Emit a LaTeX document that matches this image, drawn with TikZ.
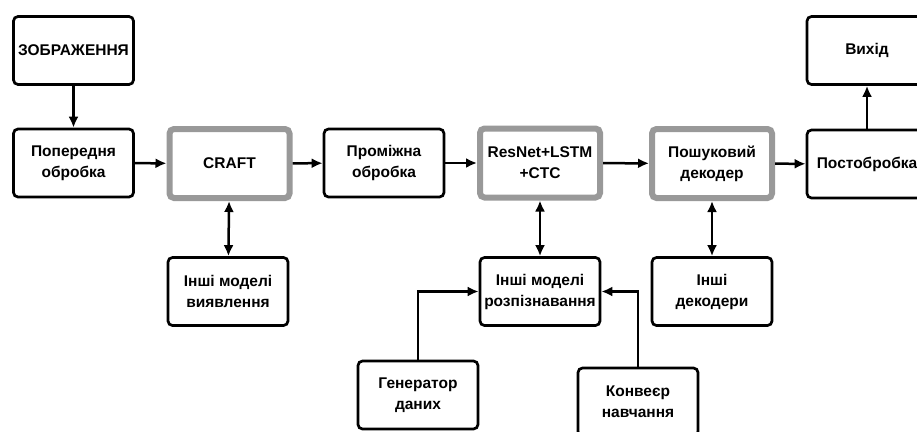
\documentclass[tikz,border=0pt]{standalone}
\usepackage{fontspec}
\setmainfont{Liberation Sans}
\usetikzlibrary{arrows.meta}
\begin{document}
\begin{tikzpicture}[x=1pt,y=-1pt,
  font=\bfseries\fontsize{15.5}{21}\selectfont,
  box/.style={draw=black, line width=2.7pt, rounded corners=4.5pt, fill=white,
    minimum width=120pt, minimum height=68pt, align=center, inner sep=0pt},
  corebox/.style={draw=black!40, line width=6pt, rounded corners=4.5pt, fill=white,
    minimum width=120pt, minimum height=69pt, align=center, inner sep=0pt},
  arr/.style={line width=2.5pt, -{Latex[length=11pt,width=10pt]}},
  biarr/.style={line width=2.5pt, {Latex[length=11pt,width=10pt]}-{Latex[length=11pt,width=10pt]}}]
  \useasboundingbox (0,0) rectangle (917,431);
  \fill[white] (0,0) rectangle (917,431);

  % main pipeline
  \node[box] (img) at (73.5,50.5) {ЗОБРАЖЕННЯ};
  \node[box] (pre) at (73.5,163) {Попередня\\обробка};
  \node[corebox] (craft) at (229.5,163.5) {CRAFT};
  \node[box] (mid) at (384,163) {Проміжна\\обробка};
  \node[corebox] (res) at (540,163) {ResNet+LSTM\\+CTC};
  \node[corebox] (dec) at (712,163.5) {Пошуковий\\декодер};
  \node[box] (post) at (867,164) {Постобробка};
  \node[box] (out) at (867,50.5) {Вихід};

  % alternatives and training
  \node[box] (det) at (228,291.5) {Інші моделі\\виявлення};
  \node[box] (rec) at (540,291.5) {Інші моделі\\розпізнавання};
  \node[box] (odec) at (712,291.5) {Інші\\декодери};
  \node[box] (gen) at (418,395) {Генератор\\даних};
  \node[box] (conv) at (638,402) {Конвеєр\\навчання};

  % connectors
  \draw[arr] (img) -- (pre);
  \draw[arr] (pre) -- (craft);
  \draw[arr] (craft) -- (mid);
  \draw[arr] (mid) -- (res);
  \draw[arr] (res) -- (dec);
  \draw[arr] (dec) -- (post);
  \draw[arr] (post) -- (out);
  \draw[biarr] (craft) -- (det);
  \draw[biarr] (res) -- (rec);
  \draw[biarr] (dec) -- (odec);
  \draw[arr] (gen.north) |- (rec.west);
  \draw[arr] (conv.north) |- (rec.east);
\end{tikzpicture}
\end{document}
